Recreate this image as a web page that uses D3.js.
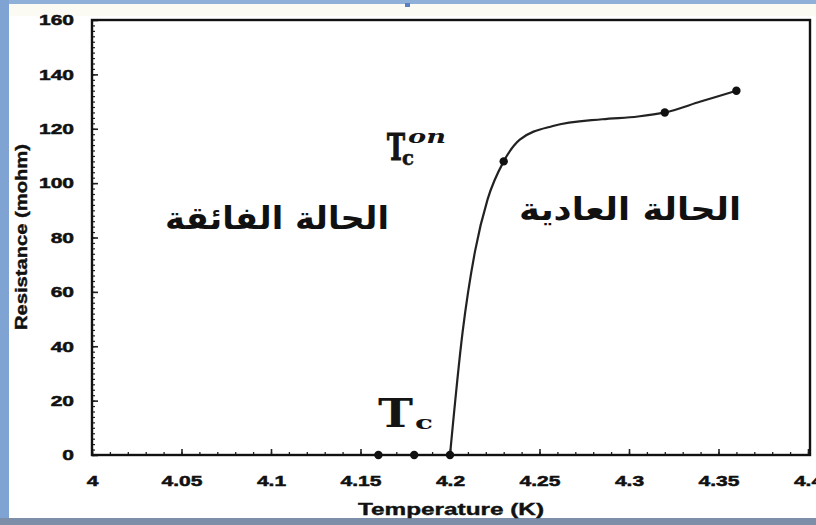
<!DOCTYPE html>
<html lang="ar">
<head>
  <meta charset="UTF-8">
  <title>Resistance vs Temperature</title>
  <style>
    body { margin: 0; background: #fff; }
    svg { display: block; }
    .tick text { font-family: "Liberation Sans", Arial, sans-serif; font-weight: bold; font-size: 15px; fill: #111; stroke: #111; stroke-width: 0.5px; }
    .axis-title { font-family: "Liberation Sans", Arial, sans-serif; font-weight: bold; font-size: 17px; fill: #111; stroke: #111; stroke-width: 0.4px; }
    .phase { font-family: "DejaVu Sans", sans-serif; font-weight: bold; font-size: 31px; fill: #111; }
    .tc { font-family: "DejaVu Serif", "Liberation Serif", serif; font-weight: bold; fill: #141414; }
  </style>
</head>
<body>
  <div id="chart"></div>

  <script src="https://d3js.org/d3.v7.min.js"></script>
  <script>
    // measured points (markers)
    const markerT = [4.16, 4.18, 4.2, 4.23, 4.32, 4.36];
    const markerR = [0, 0, 0, 108, 126, 134];

    // smooth curve
    const curveT = [4.2, 4.207, 4.214, 4.221, 4.23, 4.239, 4.2575, 4.285, 4.305, 4.32, 4.34, 4.36];
    const curveR = [0, 45, 75, 94, 108, 116, 121, 123.5, 124.5, 126, 130, 134];

    const xTicks = [4, 4.05, 4.1, 4.15, 4.2, 4.25, 4.3, 4.35, 4.4];
    const yTicks = [0, 20, 40, 60, 80, 100, 120, 140, 160];

    const width = 816, height = 525;
    const plot = { left: 92, right: 810, top: 20, bottom: 455 };

    const svg = d3.select("#chart").append("svg")
      .attr("width", width)
      .attr("height", height);

    // slide frame
    svg.append("rect").attr("x", 0).attr("y", 0).attr("width", width).attr("height", 4).attr("fill", "#8fb0d8");
    svg.append("rect").attr("x", 0).attr("y", 4).attr("width", width).attr("height", 12).attr("fill", "#fbfaf3");
    svg.append("rect").attr("x", 0).attr("y", 0).attr("width", 9).attr("height", height).attr("fill", "#7fa3d2");
    svg.append("rect").attr("x", 0).attr("y", 518).attr("width", width).attr("height", 7).attr("fill", "#7d8fa8");
    svg.append("rect").attr("x", 405).attr("y", 3).attr("width", 5).attr("height", 4).attr("fill", "#5b7fc0");

    const x = d3.scaleLinear().domain([4, 4.4]).range([plot.left, plot.right - 2]);
    const y = d3.scaleLinear().domain([0, 160]).range([plot.bottom, plot.top]);

    // widen text to match the heavy, wide face of the original
    function stretch(sel, k) {
      sel.each(function() {
        const len = this.getComputedTextLength();
        d3.select(this).attr("textLength", len * k).attr("lengthAdjust", "spacingAndGlyphs");
      });
    }

    // minor ticks (inward)
    const xMinor = d3.range(0, 41).map(i => 4 + i * 0.01);
    const yMinor = d3.range(0, 81).map(i => i * 2);

    svg.append("g")
      .attr("transform", `translate(0,${plot.bottom})`)
      .call(d3.axisTop(x).tickValues(xMinor).tickSize(3).tickFormat(""))
      .call(g => g.select(".domain").remove())
      .selectAll("line").attr("stroke", "#222").attr("stroke-width", 1.3);

    svg.append("g")
      .attr("transform", `translate(${plot.left},0)`)
      .call(d3.axisRight(y).tickValues(yMinor).tickSize(3).tickFormat(""))
      .call(g => g.select(".domain").remove())
      .selectAll("line").attr("stroke", "#222").attr("stroke-width", 1.2);

    // major ticks + labels
    svg.append("g")
      .attr("transform", `translate(0,${plot.bottom})`)
      .call(d3.axisTop(x).tickValues(xTicks).tickSize(6).tickFormat(""))
      .call(g => g.select(".domain").remove())
      .selectAll("line").attr("stroke", "#222").attr("stroke-width", 1.6);

    svg.append("g")
      .attr("transform", `translate(${plot.left},0)`)
      .call(d3.axisRight(y).tickValues(yTicks).tickSize(6).tickFormat(""))
      .call(g => g.select(".domain").remove())
      .selectAll("line").attr("stroke", "#222").attr("stroke-width", 1.6);

    svg.append("g")
      .attr("transform", `translate(0,${plot.bottom})`)
      .call(d3.axisBottom(x).tickValues(xTicks).tickSize(0).tickPadding(20).tickFormat(d => String(+d.toFixed(2))))
      .call(g => g.select(".domain").remove())
      .call(g => stretch(g.selectAll("text"), 1.4));

    svg.append("g")
      .attr("transform", `translate(${plot.left},0)`)
      .call(d3.axisLeft(y).tickValues(yTicks).tickSize(0).tickPadding(18))
      .call(g => g.select(".domain").remove())
      .call(g => stretch(g.selectAll("text"), 1.4));

    // plot frame
    svg.append("rect")
      .attr("x", plot.left).attr("y", plot.top)
      .attr("width", plot.right - plot.left).attr("height", plot.bottom - plot.top)
      .attr("fill", "none").attr("stroke", "#111").attr("stroke-width", 2.4);

    // curve
    const curve = curveT.map((t, i) => [t, curveR[i]]);
    svg.append("path")
      .datum(curve)
      .attr("fill", "none")
      .attr("stroke", "#222")
      .attr("stroke-width", 2.2)
      .attr("d", d3.line().x(d => x(d[0])).y(d => y(d[1])).curve(d3.curveMonotoneX));

    // markers
    svg.selectAll("circle.pt")
      .data(markerT.map((t, i) => [t, markerR[i]]))
      .join("circle")
      .attr("class", "pt")
      .attr("cx", d => x(d[0]))
      .attr("cy", d => y(d[1]))
      .attr("r", 4.2)
      .attr("fill", "#111");

    // axis titles
    svg.append("text")
      .attr("class", "axis-title")
      .attr("x", 451).attr("y", 515)
      .attr("text-anchor", "middle")
      .attr("textLength", 186).attr("lengthAdjust", "spacingAndGlyphs")
      .text("Temperature (K)");

    svg.append("text")
      .attr("class", "axis-title")
      .attr("transform", "translate(27,237) rotate(-90)")
      .attr("text-anchor", "middle")
      .style("font-size", "16px")
      .attr("textLength", 186).attr("lengthAdjust", "spacingAndGlyphs")
      .text("Resistance (mohm)");

    // phase labels
    svg.append("text")
      .attr("class", "phase")
      .attr("x", 277).attr("y", 229)
      .attr("text-anchor", "middle")
      .attr("direction", "rtl")
      .attr("textLength", 224).attr("lengthAdjust", "spacingAndGlyphs")
      .text("الحالة الفائقة");

    svg.append("text")
      .attr("class", "phase")
      .attr("x", 630).attr("y", 220)
      .attr("text-anchor", "middle")
      .attr("direction", "rtl")
      .attr("textLength", 222).attr("lengthAdjust", "spacingAndGlyphs")
      .text("الحالة العادية");

    // Tc onset label: narrow heavy T, subscript c, italic superscript "on"
    svg.append("text").attr("class", "tc")
      .attr("x", 387).attr("y", 160)
      .style("font-size", "37px")
      .attr("stroke", "#141414").attr("stroke-width", 1.2)
      .attr("textLength", 18).attr("lengthAdjust", "spacingAndGlyphs")
      .text("T");
    svg.append("text").attr("class", "tc")
      .attr("x", 402).attr("y", 165)
      .style("font-size", "21px")
      .attr("stroke", "#141414").attr("stroke-width", 0.5)
      .attr("textLength", 12).attr("lengthAdjust", "spacingAndGlyphs")
      .text("c");
    svg.append("text").attr("class", "tc")
      .attr("x", 408).attr("y", 143)
      .style("font-size", "19px").style("font-style", "italic")
      .attr("textLength", 38).attr("lengthAdjust", "spacingAndGlyphs")
      .text("on");

    // Tc label: wide T, wide subscript c
    svg.append("text").attr("class", "tc")
      .attr("x", 378).attr("y", 427)
      .style("font-size", "40px")
      .attr("textLength", 35).attr("lengthAdjust", "spacingAndGlyphs")
      .text("T");
    svg.append("text").attr("class", "tc")
      .attr("x", 415).attr("y", 429)
      .style("font-size", "19px")
      .attr("textLength", 18).attr("lengthAdjust", "spacingAndGlyphs")
      .text("c");
  </script>
</body>
</html>
